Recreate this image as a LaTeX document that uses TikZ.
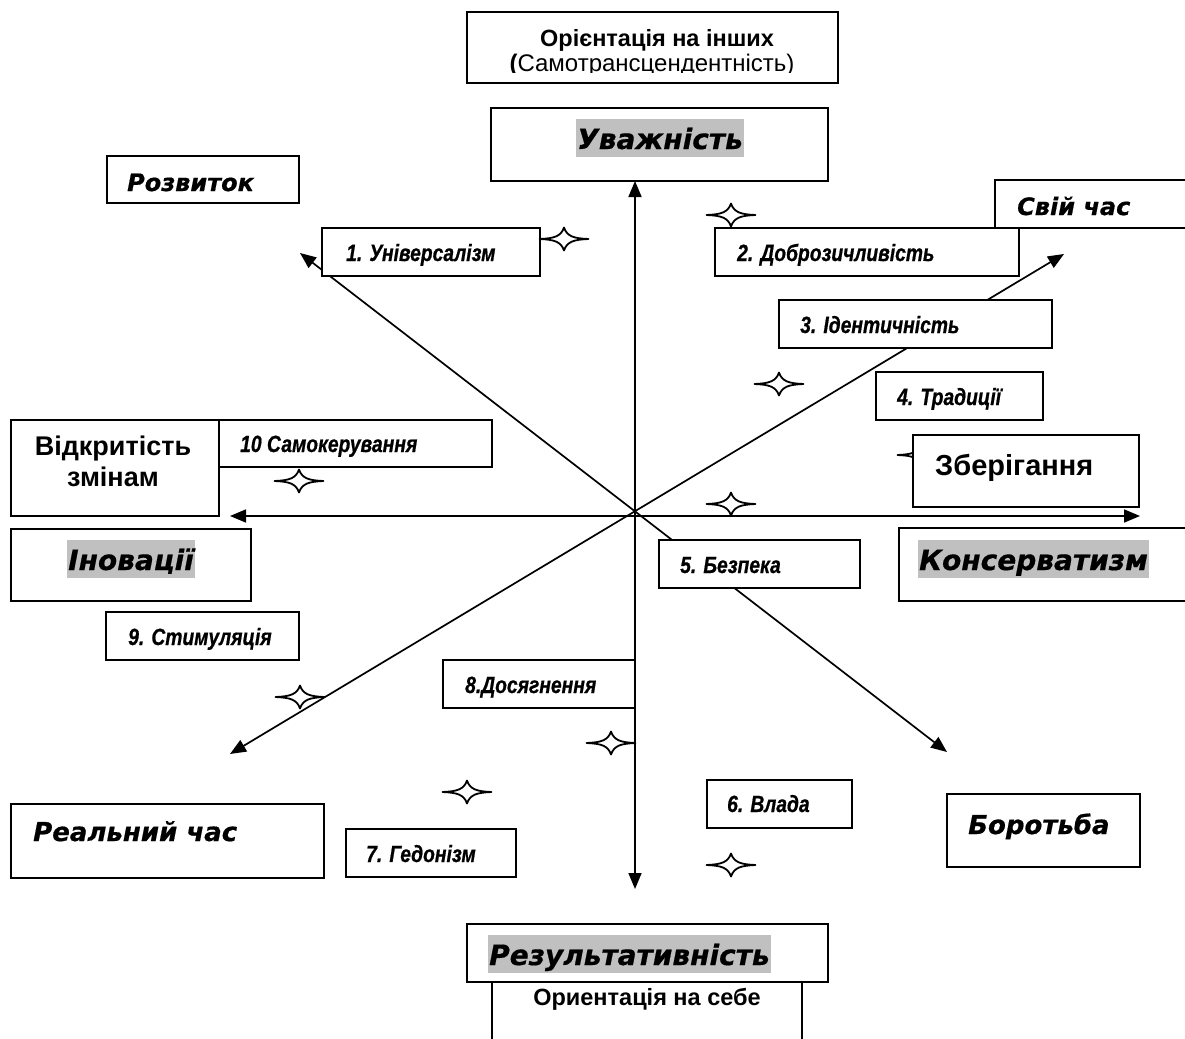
\documentclass[tikz,border=0pt]{standalone}
\usepackage{fontspec}
\setmainfont{Liberation Sans}
\newfontfamily\vfont{DejaVu Sans}[BoldItalicFeatures={FakeBold=0.6}]
\newfontfamily\narrowfont{Liberation Sans}[FakeStretch=0.82, BoldItalicFeatures={FakeBold=0.7}]
\usetikzlibrary{arrows.meta}
\definecolor{hlgray}{HTML}{C0C0C0}
\newcommand\vbi{\vfont\bfseries\itshape}
\newcommand\myhl[1]{{\setlength\fboxsep{0pt}\colorbox{hlgray}{\rule[-8pt]{0pt}{38pt}\hspace{1pt}#1\hspace{1pt}}}}
\begin{document}
\begin{tikzpicture}[x=1pt,y=-1pt,
  box/.style={draw, line width=1.8pt, fill=white, inner sep=0pt, outer sep=0pt, anchor=north west},
  axis/.style={line width=1.7pt, {Triangle[length=16pt,width=13pt]}-{Triangle[length=16pt,width=13pt]}},
  lbl/.style={anchor=base west, inner sep=0pt, font=\fontsize{23.5}{28}\selectfont\narrowfont\bfseries\itshape},
  vlbl/.style={anchor=base west, inner sep=0pt, font=\fontsize{24}{29}\selectfont\vbi},
  hlbl/.style={anchor=base west, inner sep=0pt, font=\fontsize{28}{34}\selectfont\vbi},
  star4/.pic={\draw[line width=1.8pt, fill=white, line join=round]
     (-24.5,0) .. controls (-10,-0.6) and (-3,-2.5) .. (0,-11.5)
     .. controls (3,-2.5) and (10,-0.6) .. (24.5,0)
     .. controls (10,0.6) and (3,2.5) .. (0,11.5)
     .. controls (-3,2.5) and (-10,0.6) .. (-24.5,0) -- cycle;}
]
\fill[white] (0,0) rectangle (1185,1038);
\clip (0,0) rectangle (1185,1038);

% axes
\coordinate (O) at (635,512);
\coordinate (Ntip) at (635,181);
\coordinate (Stip) at (635,889);
\coordinate (Wtip) at (230,516);
\coordinate (Etip) at (1140,516);
\coordinate (NWtip) at (300,253);
\coordinate (SEtip) at (947,752);
\coordinate (NEtip) at (1064,254);
\coordinate (SWtip) at (230,754);
\draw[axis] (Stip) -- (Ntip);
\draw[axis] (Wtip) -- (Etip);
\draw[axis] (NWtip) -- (SEtip);
\draw[axis] (SWtip) -- (NEtip);

% star hidden under Zberigannya
\pic at (922,455) {star4};

% boxes
\node[box, minimum width=371pt, minimum height=71pt] (bTop) at (467,12) {};
\node[box, minimum width=337pt, minimum height=73pt] (bUv) at (491,108) {};
\node[box, minimum width=192pt, minimum height=47pt] (bRoz) at (107,156) {};
\node[box, minimum width=218pt, minimum height=48pt] (b1) at (322,228) {};
\node[box, minimum width=304pt, minimum height=48pt] (b2) at (715,228) {};
\node[box, minimum width=215pt, minimum height=48pt] (bSvii) at (995,180) {};
\node[box, minimum width=273pt, minimum height=48pt] (b3) at (779,300) {};
\node[box, minimum width=167pt, minimum height=48pt] (b4) at (876,372) {};
\node[box, minimum width=273pt, minimum height=47pt] (b10) at (219,420) {};
\node[box, minimum width=208pt, minimum height=96pt] (bVid) at (11,420) {};
\node[box, minimum width=226pt, minimum height=72pt] (bZber) at (913,435) {};
\node[box, minimum width=240pt, minimum height=72pt] (bInov) at (11,529) {};
\node[box, minimum width=311pt, minimum height=73pt] (bKons) at (899,528) {};
\node[box, minimum width=201pt, minimum height=48pt] (b5) at (659,540) {};
\node[box, minimum width=193pt, minimum height=48pt] (b9) at (106,612) {};
\node[box, minimum width=192pt, minimum height=48pt] (b8) at (443,660) {};
\node[box, minimum width=313pt, minimum height=74pt] (bReal) at (11,804) {};
\node[box, minimum width=170pt, minimum height=48pt] (b7) at (346,829) {};
\node[box, minimum width=145pt, minimum height=48pt] (b6) at (707,780) {};
\node[box, minimum width=193pt, minimum height=73pt] (bBor) at (947,794) {};
\node[box, minimum width=361pt, minimum height=58pt] (bRez) at (467,924) {};
\node[box, minimum width=310pt, minimum height=68pt] (bOr) at (492,982) {};

% stars
\pic at (564,239) {star4};
\pic at (731,215) {star4};
\pic at (779,384) {star4};
\pic at (299,481) {star4};
\pic at (731,504) {star4};
\pic at (300,697) {star4};
\pic at (611,743) {star4};
\pic at (467,792) {star4};
\pic at (731,865) {star4};

% texts
\node[anchor=base, inner sep=0pt, font=\fontsize{23.5}{28}\selectfont\bfseries] (tTop1) at (657,47) {Орієнтація на інших};
\begin{scope}
\clip (467,12) rectangle (838,73);
\node[anchor=base, inner sep=0pt, font=\fontsize{24}{28}\selectfont] (tTop2) at (652,71.5) {\textbf{(}Самотрансцендентність)};
\end{scope}
\node[hlbl, anchor=base] (tUv) at (660,149) {\myhl{Уважність}};
\node[vlbl] (tRoz) at (127,191) {Розвиток};
\node[lbl] (t1) at (346,261) {1. Універсалізм};
\node[lbl] (t2) at (737,261) {2. Доброзичливість};
\node[vlbl] (tSvii) at (1017,215) {Свій час};
\node[lbl] (t3) at (800,333) {3. Ідентичність};
\node[lbl] (t4) at (897,405) {4. Традиції};
\node[lbl] (t10) at (240,452) {10 Самокерування};
\node[anchor=base, inner sep=0pt, align=center, font=\fontsize{27}{31}\selectfont\bfseries] (tVid) at (113,486) {Відкритість\\змінам};
\node[anchor=base west, inner sep=0pt, font=\fontsize{29}{34}\selectfont\bfseries] (tZber) at (935,475) {Зберігання};
\node[hlbl, anchor=base] (tInov) at (131,570) {\myhl{Іновації}};
\node[hlbl] (tKons) at (918,570) {\myhl{Консерватизм}};
\node[lbl] (t5) at (680,573) {5. Безпека};
\node[lbl] (t9) at (128,645) {9. Стимуляція};
\node[lbl] (t8) at (465,693) {8.Досягнення};
\node[vlbl, font=\fontsize{26}{31}\selectfont\vbi] (tReal) at (33,841) {Реальний час};
\node[lbl] (t7) at (366,862) {7. Гедонізм};
\node[lbl] (t6) at (727,812) {6. Влада};
\node[vlbl, font=\fontsize{26}{31}\selectfont\vbi] (tBor) at (968,834) {Боротьба};
\node[hlbl] (tRez) at (488,965) {\myhl{Результативність}};
\node[anchor=base, inner sep=0pt, font=\fontsize{23.5}{28}\selectfont\bfseries] (tOr) at (647,1005) {Ориентація на себе};
\end{tikzpicture}
\end{document}
